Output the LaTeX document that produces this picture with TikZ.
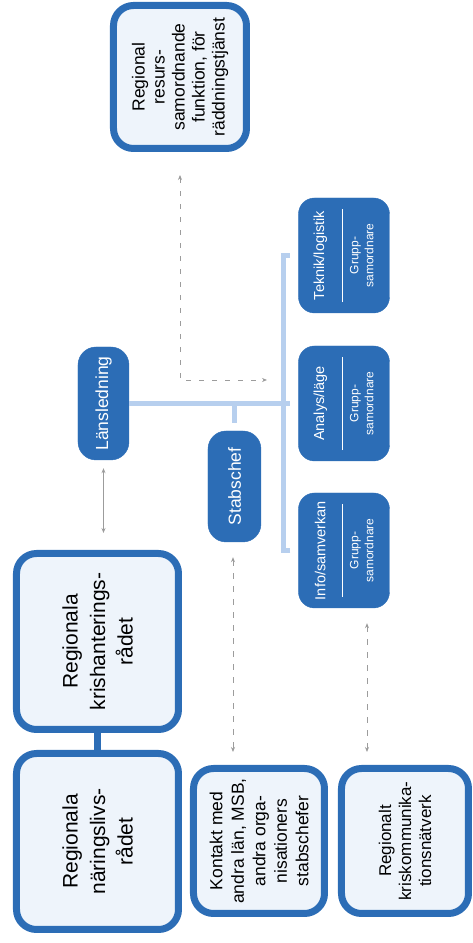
\documentclass[tikz,border=0pt]{standalone}
\usepackage{fontspec}
\setmainfont{Liberation Sans}
\usetikzlibrary{arrows.meta}
\definecolor{kblue}{HTML}{2C6DB6}
\definecolor{klight}{HTML}{EEF4FB}
\definecolor{kbus}{HTML}{B7CFEE}
\definecolor{kgray}{HTML}{9C9C9C}
\tikzset{
  rad/.style={draw=kblue,line width=7pt,fill=klight,rounded corners=20pt,align=center,inner sep=0pt},
  chef/.style={draw=kblue,fill=kblue,rounded corners=18pt,text=white,align=center,inner sep=0pt,
    font=\fontsize{17.5}{20}\selectfont},
  grp/.style={draw=kblue,fill=kblue,rounded corners=16pt,minimum width=115pt,minimum height=91pt},
  grphead/.style={text=white,font=\fontsize{14.5}{16}\selectfont,inner sep=0pt},
  grpsub/.style={text=white,align=center,font=\fontsize{12}{15}\selectfont,inner sep=0pt},
  bus/.style={draw=kbus,line width=5pt},
  link/.style={<->,draw=kgray,line width=.8pt,dash pattern=on 6pt off 7pt,>={Stealth[length=5pt,width=4pt]}}
}
\begin{document}
\begin{tikzpicture}[x=1pt,y=1pt,rotate=90,transform shape]
\useasboundingbox (0,0) rectangle (943,473);
% raden
\node[rad,minimum width=176pt,minimum height=162pt,font=\fontsize{21}{27.5}\selectfont] (naring) at (101.5,375.5) {Regionala\\näringslivs-\\rådet};
\node[rad,minimum width=176pt,minimum height=162pt,font=\fontsize{21}{27.5}\selectfont] (krishant) at (301.5,375.5) {Regionala\\krishanterings-\\rådet};
\draw[kblue,line width=7pt] (naring) -- (krishant);
\node[rad,minimum width=145pt,minimum height=131pt,font=\fontsize{17.5}{21.5}\selectfont] (kontakt) at (102,214) {Kontakt med\\andra län, MSB,\\andra orga-\\nisationers\\stabschefer};
\node[rad,minimum width=145pt,minimum height=127pt,font=\fontsize{17}{20}\selectfont] (natverk) at (102,68) {Regionalt\\kriskommunika-\\tionsnätverk};
\node[rad,minimum width=143pt,minimum height=133pt,font=\fontsize{17.5}{20}\selectfont] (resurs) at (866,293) {Regional\\resurs-\\samordnande\\funktion, för\\räddningstjänst};
% ledning
\node[chef,minimum width=113pt,minimum height=51pt] (lans) at (539.5,369.5) {Länsledning};
\node[chef,minimum width=111pt,minimum height=53pt] (stab) at (456.5,238.5) {Stabschef};
% grupper
\foreach \g/\u/\t in {info/392.5/{Info/samverkan},analys/539.5/{Analys/läge},teknik/687.5/{Teknik/logistik}}{
  \node[grp] (\g) at (\u,129) {};
  \node[grphead] (\g-head) at ([yshift=-22pt]\g.north) {\t};
  \draw[white,line width=1.5pt] ([xshift=11pt,yshift=-44pt]\g.north west) -- ([xshift=-11pt,yshift=-44pt]\g.north east);
  \node[grpsub] (\g-sub) at ([yshift=28pt]\g.south) {Grupp-\\samordnare};
}
\draw[bus] (lans.south) -- ([yshift=8pt]analys.north);
\draw[bus] ([yshift=8pt]info.north) -- ++(0,7) -| ([yshift=8pt]teknik.north);
\draw[bus] (stab.east -| lans.south) -- ([xshift=8pt]stab.east);
% kontakter
\coordinate (infolink) at ([xshift=-15pt,yshift=-23pt]info.west);
\coordinate (stablink) at ([xshift=-15pt,yshift=1.5pt]stab.west);
\coordinate (lanslink) at ([xshift=-8pt]lans.west);
\coordinate (busin) at (563,206);
\draw[link,solid] (lanslink) -- ([xshift=17pt]lanslink -| krishant.east);
\draw[link] (stablink) -- ([xshift=13pt]stablink -| kontakt.east);
\draw[link] (infolink) -- ([xshift=13pt]infolink -| natverk.east);
\draw[link,dash pattern=on 5pt off 8pt] ([xshift=-23pt]resurs.west) -| (busin);
\end{tikzpicture}
\end{document}
